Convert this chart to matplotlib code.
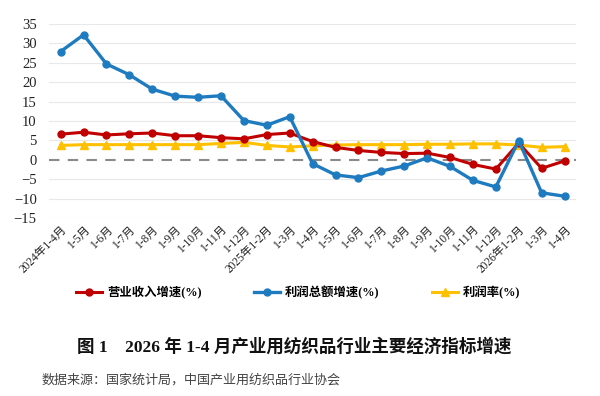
import matplotlib
matplotlib.use("Agg")
import matplotlib.pyplot as plt
import numpy as np

plt.rcParams["font.family"] = ["Liberation Serif", "Noto Sans CJK SC"]

CATS = ["2024年1-4月", "1-5月", "1-6月", "1-7月", "1-8月", "1-9月", "1-10月",
        "1-11月", "1-12月", "2025年1-2月", "1-3月", "1-4月", "1-5月", "1-6月",
        "1-7月", "1-8月", "1-9月", "1-10月", "1-11月", "1-12月", "2026年1-2月",
        "1-3月", "1-4月"]
REVENUE = [6.6, 7.1, 6.4, 6.7, 6.9, 6.2, 6.2, 5.7, 5.4, 6.5, 6.9, 4.7, 3.2, 2.4,
           1.9, 1.6, 1.7, 0.6, -1.2, -2.4, 4.3, -2.2, -0.3]
PROFIT = [27.9, 32.2, 24.7, 21.9, 18.2, 16.4, 16.1, 16.5, 10.1, 8.9, 11.1, -1.0,
          -3.9, -4.6, -2.9, -1.6, 0.5, -1.7, -5.3, -7.0, 4.9, -8.5, -9.4]
MARGIN = [3.7, 3.9, 3.9, 3.9, 3.9, 3.9, 3.9, 4.2, 4.5, 3.7, 3.3, 3.6, 3.8, 3.9,
          3.9, 3.9, 4.0, 4.0, 4.1, 4.1, 3.8, 3.2, 3.4]
LABELS = ["营业收入增速(%)", "利润总额增速(%)", "利润率(%)"]
COLORS = ["#C00000", "#1F7BC0", "#FFC000"]

fig = plt.figure(figsize=(6, 3.96), dpi=100)
ax = fig.add_axes([0.082, 0.4495, 0.878, 0.49])
x = np.arange(len(CATS))

for yv in range(-15, 40, 5):
    if yv == 0:
        ax.axhline(0, color="#8a8a8a", lw=1.5, ls=(0, (5, 4)), zorder=1)
    else:
        ax.axhline(yv, color="#e8e8e8", lw=0.8, zorder=0)

ax.plot(x, REVENUE, color=COLORS[0], lw=2.2, marker="o", ms=5, label=LABELS[0], zorder=3)
ax.plot(x, PROFIT, color=COLORS[1], lw=2.4, marker="o", ms=5, label=LABELS[1], zorder=4)
ax.plot(x, MARGIN, color=COLORS[2], lw=2.2, marker="^", ms=6, label=LABELS[2], zorder=2)

ax.set_xlim(-0.5, len(CATS) - 0.5)
ax.set_ylim(-15, 35)
ax.set_yticks(range(-15, 40, 5))
ax.tick_params(axis="y", length=0, pad=9, labelsize=10.5, labelcolor="#222")
ax.set_xticks(x)
ax.set_xticklabels(CATS, rotation=45, ha="right", rotation_mode="anchor",
                   fontsize=8.3, color="#222")
ax.tick_params(axis="x", length=0, pad=4)
for s in ax.spines.values():
    s.set_visible(False)

fig.legend(loc="center", bbox_to_anchor=(0.497, 0.26), ncol=3, frameon=False,
           handlelength=2.1, columnspacing=4.2, handletextpad=0.45,
           prop={"family": ["Liberation Serif", "Noto Sans CJK SC"], "size": 8.9,
                 "weight": "bold"})

fig.text(0.49, 0.123, "图 1　2026 年 1-4 月产业用纺织品行业主要经济指标增速",
         ha="center", va="center", fontsize=12.6, fontweight="bold", color="#111")
fig.text(0.07, 0.04, "数据来源：国家统计局，中国产业用纺织品行业协会",
         ha="left", va="center", fontsize=9.4, color="#444",
         family=["Noto Sans CJK SC", "DejaVu Sans"])

fig.savefig("out.png", dpi=100)
